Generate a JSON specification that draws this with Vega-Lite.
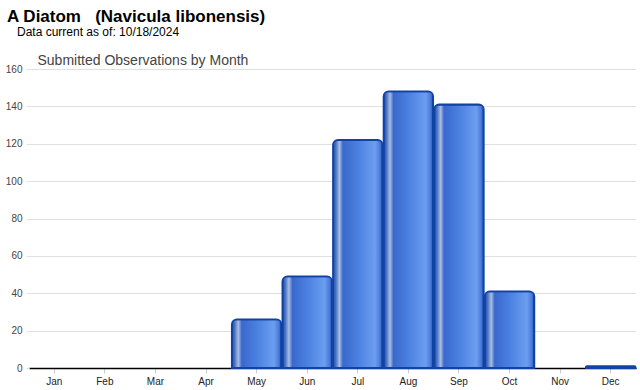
{
  "$schema": "https://vega.github.io/schema/vega-lite/v6.json",
  "autosize": {"type": "none"},
  "width": 607,
  "height": 299,
  "padding": {"left": 29, "top": 69, "right": 4, "bottom": 22},
  "background": "white",
  "config": {
    "view": {"stroke": null},
    "font": "Liberation Sans"
  },
  "title": {
    "text": "A Diatom\u00a0\u00a0\u00a0(Navicula libonensis)",
    "subtitle": "\u200b\u00a0\u00a0\u00a0Data current as of: 10/18/2024",
    "anchor": "start",
    "frame": "group",
    "font": "Liberation Sans",
    "fontSize": 17,
    "fontWeight": "bold",
    "color": "#000000",
    "subtitleFont": "Liberation Sans",
    "subtitleFontSize": 12,
    "subtitleColor": "#000000",
    "subtitlePadding": 1,
    "dx": -22,
    "offset": 14
  },
  "data": {
    "values": [
      {"month": "Jan", "count": 0},
      {"month": "Feb", "count": 0},
      {"month": "Mar", "count": 0},
      {"month": "Apr", "count": 0},
      {"month": "May", "count": 26},
      {"month": "Jun", "count": 49},
      {"month": "Jul", "count": 122},
      {"month": "Aug", "count": 148},
      {"month": "Sep", "count": 141},
      {"month": "Oct", "count": 41},
      {"month": "Nov", "count": 0},
      {"month": "Dec", "count": 1}
    ]
  },
  "transform": [{"filter": "datum.count > 0"}],
  "mark": {
    "type": "bar",
    "cornerRadiusTopLeft": 5,
    "cornerRadiusTopRight": 5,
    "stroke": "#1043a4",
    "strokeWidth": 1.8,
    "fill": {
      "gradient": "linear",
      "x1": 0, "y1": 0, "x2": 1, "y2": 0,
      "stops": [
        {"offset": 0, "color": "#1c4cae"},
        {"offset": 0.06, "color": "#4d74c2"},
        {"offset": 0.13, "color": "#a9bee2"},
        {"offset": 0.2, "color": "#3a68cc"},
        {"offset": 0.5, "color": "#4a80e0"},
        {"offset": 0.85, "color": "#6c9ef0"},
        {"offset": 0.95, "color": "#4a7ad8"},
        {"offset": 1, "color": "#1c4cae"}
      ]
    }
  },
  "encoding": {
    "x": {
      "field": "month",
      "type": "nominal",
      "sort": null,
      "scale": {
        "domain": ["Jan", "Feb", "Mar", "Apr", "May", "Jun", "Jul", "Aug", "Sep", "Oct", "Nov", "Dec"],
        "paddingInner": 0.02,
        "paddingOuter": 0.01
      },
      "axis": {
        "title": null,
        "labelAngle": 0,
        "labelFontSize": 10,
        "labelColor": "#222222",
        "labelPadding": 3,
        "domainColor": "#000000",
        "domainWidth": 1.5,
        "tickColor": "#cccccc",
        "tickSize": 5,
        "grid": false
      }
    },
    "y": {
      "field": "count",
      "type": "quantitative",
      "scale": {"domain": [0, 160], "nice": false},
      "axis": {
        "values": [0, 20, 40, 60, 80, 100, 120, 140, 160],
        "title": "Submitted Observations by Month",
        "titleAngle": 0,
        "titleAlign": "left",
        "titleBaseline": "alphabetic",
        "titleX": 8,
        "titleY": -5,
        "titleFont": "Liberation Sans",
        "titleFontSize": 14,
        "titleFontWeight": "normal",
        "titleColor": "#444444",
        "labelFontSize": 10,
        "labelColor": "#444444",
        "labelPadding": 4,
        "domain": false,
        "tickColor": "#e0e0e0",
        "tickSize": 3,
        "gridColor": "#e0e0e0"
      }
    }
  }
}
